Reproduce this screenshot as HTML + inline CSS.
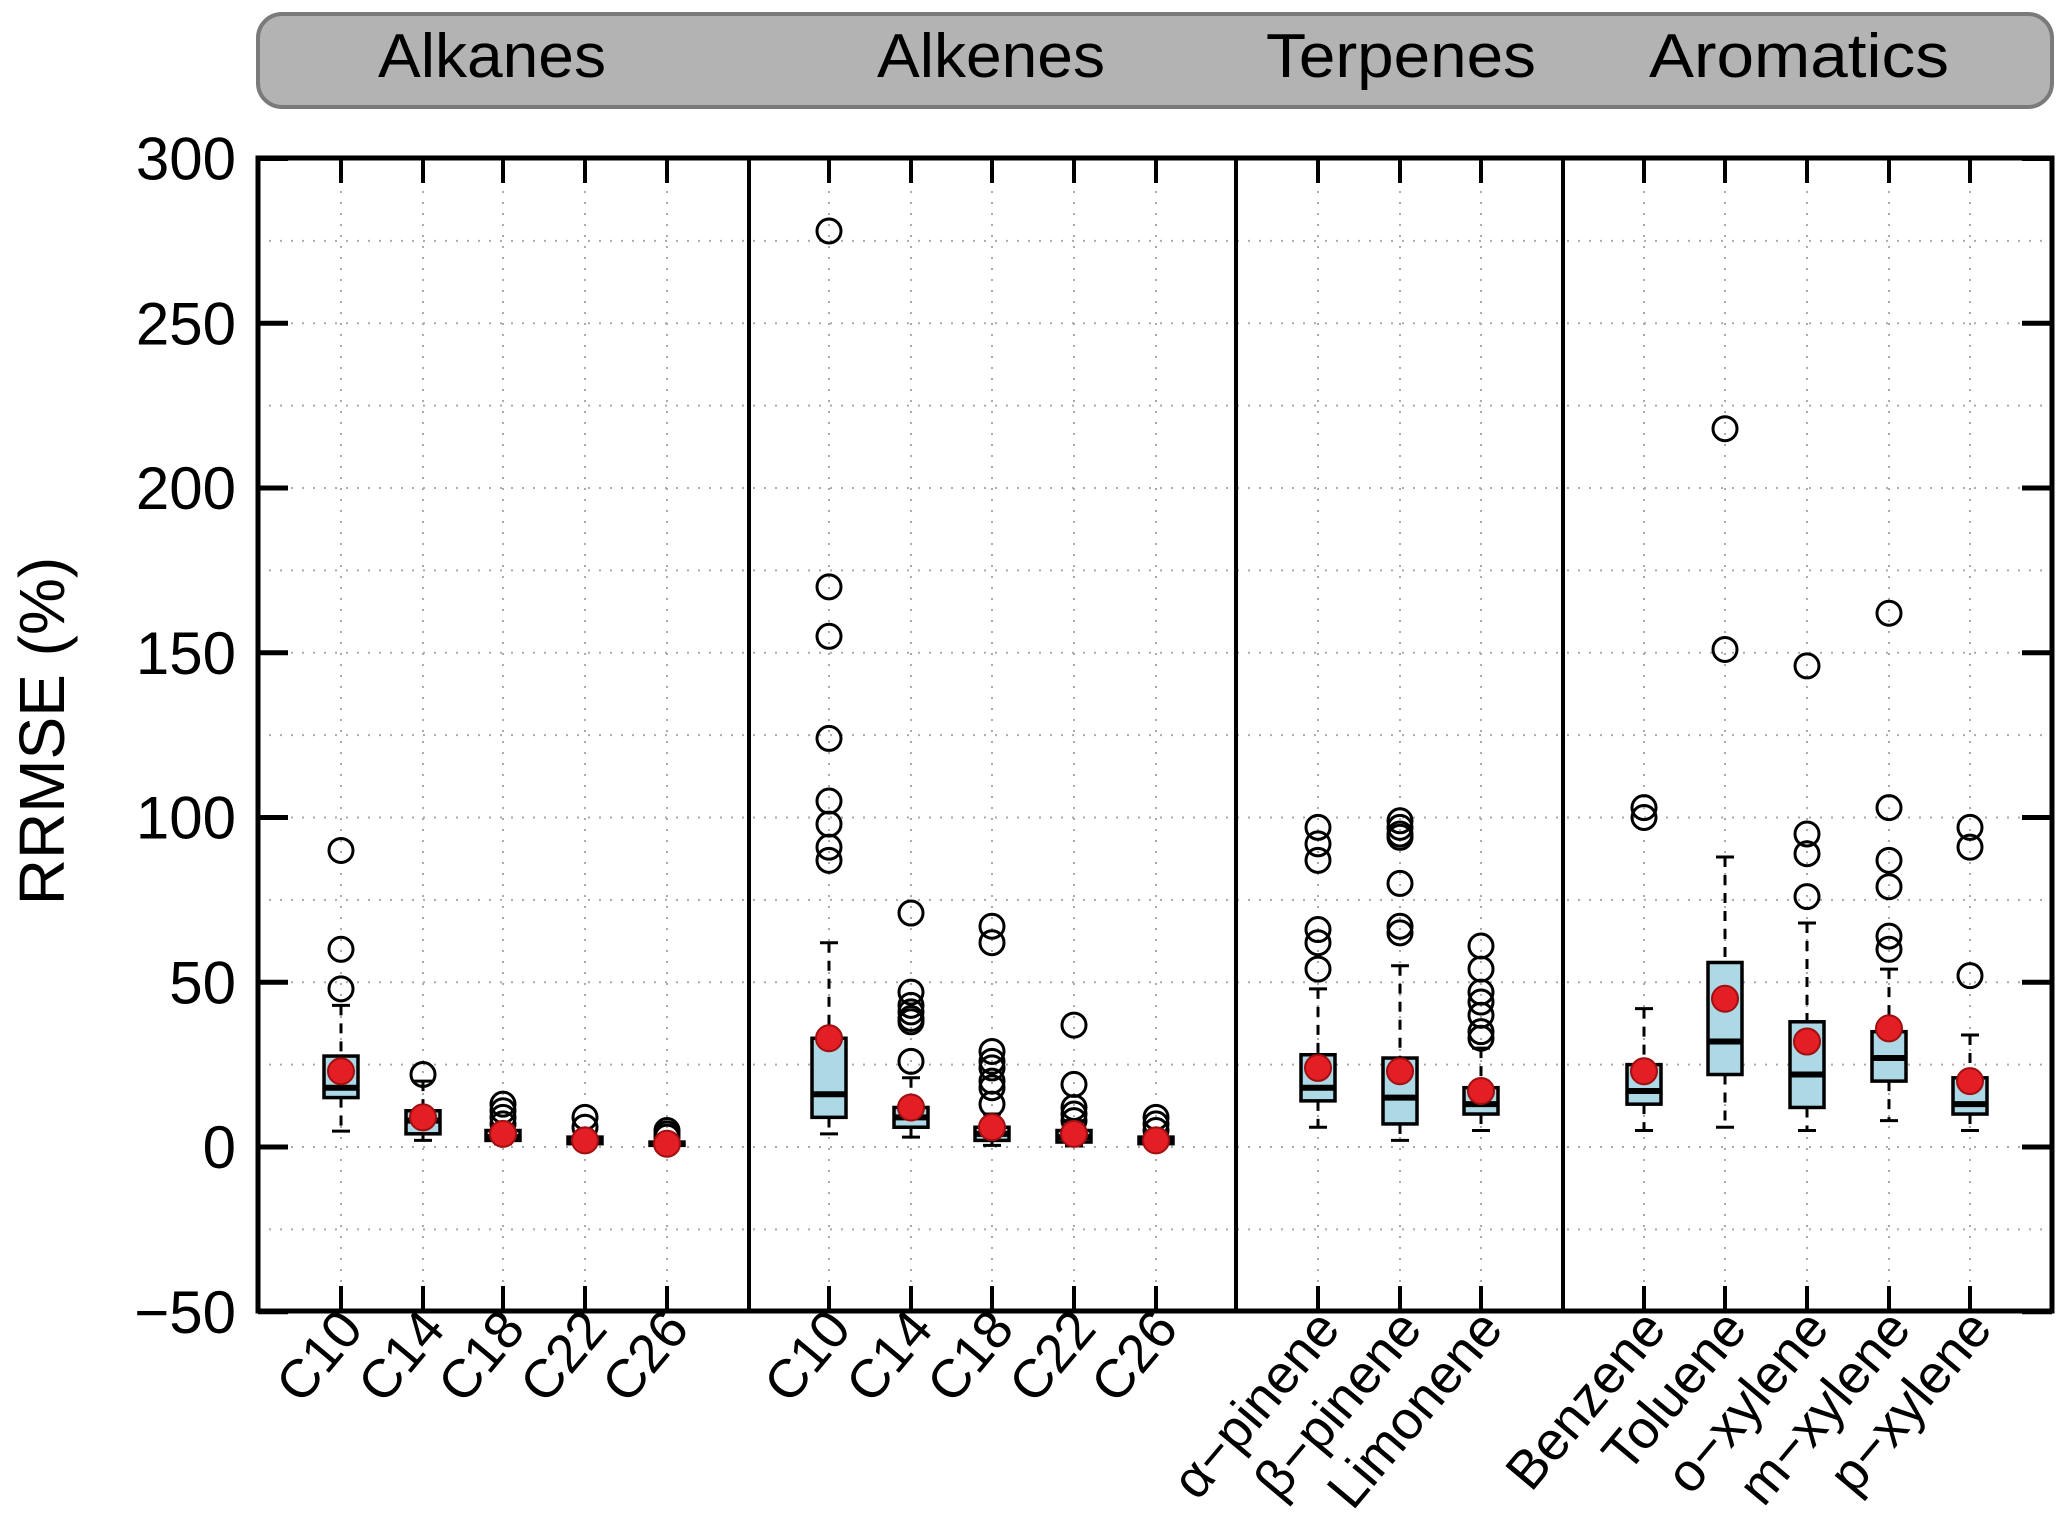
<!DOCTYPE html>
<html><head><meta charset="utf-8"><style>
html,body{margin:0;padding:0;background:#fff;}
svg{display:block;font-family:"Liberation Sans",sans-serif;}
</style></head><body>
<svg id="chart" width="2067" height="1540" viewBox="0 0 2067 1540" xmlns="http://www.w3.org/2000/svg">
<rect x="258" y="14" width="1794" height="93" rx="24" fill="#b3b3b3" stroke="#7a7a7a" stroke-width="4"/>
<text x="492" y="77" font-size="62" text-anchor="middle" textLength="228" lengthAdjust="spacingAndGlyphs">Alkanes</text>
<text x="991" y="77" font-size="62" text-anchor="middle" textLength="228" lengthAdjust="spacingAndGlyphs">Alkenes</text>
<text x="1401" y="77" font-size="62" text-anchor="middle" textLength="270" lengthAdjust="spacingAndGlyphs">Terpenes</text>
<text x="1799" y="77" font-size="62" text-anchor="middle" textLength="300" lengthAdjust="spacingAndGlyphs">Aromatics</text>
<text transform="translate(64,731) rotate(-90)" font-size="64" text-anchor="middle">RRMSE (%)</text>
<g id="grid"></g><g id="marks"></g><g id="axes"></g>
</svg>
<script>
const categories=["C10","C14","C18","C22","C26","C10","C14","C18","C22","C26","α−pinene","β−pinene","Limonene","Benzene","Toluene","o−xylene","m−xylene","p−xylene"];
const q1=[15,4,2,1,0.5,9,6,2,1.5,1,14,7,10,13,22,12,20,10];
const q3=[27.6,11,5,3,1.5,33,12,6,5,3,28,27,18,25,56,38,35,21];
const med=[18,8,3,2,1,16,9,4,3,2,18,15,13,17,32,22,27,13];
const whiskLo=[4.8,2,1,0.5,0.2,4,3,0.5,0.3,0.3,6,2,5,5,6,5,8,5];
const whiskHi=[43,20,6,3,2,62,21,10,8,4,48,55,30,42,88,68,54,34];
const means=[23,9,4,2,1,33,12,6,4,2,24,23,17,23,45,32,36,20];
const outliers=[[90,60,48],[22],[13,11,9,7],[9,6],[5,4,3],[278,170,155,124,105,98,91,87],[71,47,43,41,39,38,26],[67,62,29,26,24,20,18,13],[37,19,12,10,8],[9,7,5],[97,92,87,66,62,54],[99,97,95,94,80,67,65],[61,54,47,44,40,35,33],[103,100],[218,151],[146,95,89,76],[162,103,87,79,64,60],[97,91,52]];
const yTicks=[-50,0,50,100,150,200,250,300];
const xPos=[341,423,503,585,667,829,911,992,1074,1156,1318,1400,1481,1644,1725,1807,1889,1970];
const dividers=[749,1236,1563];
const L=258,R=2052,T=158,B=1311;
function y(v){return 1147-v*3.295;}
const NS="http://www.w3.org/2000/svg";
function mk(parent,tag,attrs){const e=document.createElementNS(NS,tag);for(const k in attrs)e.setAttribute(k,attrs[k]);parent.appendChild(e);return e;}
const grid=document.getElementById('grid'),marks=document.getElementById('marks'),axes=document.getElementById('axes');
for(let v=-50;v<=300;v+=25){const g=mk(grid,'line',{x1:L,x2:R,y1:y(v),y2:y(v),stroke:'#aaa','stroke-width':2,'stroke-dasharray':'2 9'});

}
xPos.forEach(x=>{const g=mk(grid,'line',{x1:x,x2:x,y1:T,y2:B,stroke:'#aaa','stroke-width':2,'stroke-dasharray':'2 9'});

});
categories.forEach((c,i)=>{
 const x=xPos[i],w=34;
 const g=mk(marks,'g',{});
 
 
 mk(g,'line',{x1:x,x2:x,y1:y(whiskHi[i]),y2:y(q3[i]),stroke:'#000','stroke-width':3,'stroke-dasharray':'10 8'});
 mk(g,'line',{x1:x,x2:x,y1:y(q1[i]),y2:y(whiskLo[i]),stroke:'#000','stroke-width':3,'stroke-dasharray':'10 8'});
 mk(g,'line',{x1:x-9,x2:x+9,y1:y(whiskHi[i]),y2:y(whiskHi[i]),stroke:'#000','stroke-width':3});
 mk(g,'line',{x1:x-9,x2:x+9,y1:y(whiskLo[i]),y2:y(whiskLo[i]),stroke:'#000','stroke-width':3});
 mk(g,'rect',{x:x-w/2,y:y(q3[i]),width:w,height:Math.max(2,y(q1[i])-y(q3[i])),fill:'#add8e6',stroke:'#000','stroke-width':3.5});
 mk(g,'line',{x1:x-w/2,x2:x+w/2,y1:y(med[i]),y2:y(med[i]),stroke:'#000','stroke-width':6});
 outliers[i].forEach(o=>{const c2=mk(g,'circle',{cx:x,cy:y(o),r:12,fill:'none',stroke:'#000','stroke-width':3});
 
 });
 const m=mk(g,'circle',{cx:x,cy:y(means[i]),r:13,fill:'#e31e24',stroke:'#a01010','stroke-width':2});
 
 
 mk(axes,'line',{x1:x,x2:x,y1:B,y2:B-25,stroke:'#000','stroke-width':4});
 mk(axes,'line',{x1:x,x2:x,y1:T,y2:T+25,stroke:'#000','stroke-width':4});
 const t=mk(axes,'text',{transform:`translate(${x+24},1330) rotate(-50)`,'font-size':54,'text-anchor':'end'});
 t.textContent=c;
 
 
});
dividers.forEach(d=>{const l=mk(axes,'line',{x1:d,x2:d,y1:T,y2:B,stroke:'#000','stroke-width':4});

});
yTicks.forEach(v=>{
 mk(axes,'line',{x1:L,x2:L+30,y1:y(v),y2:y(v),stroke:'#000','stroke-width':5});
 mk(axes,'line',{x1:R,x2:R-30,y1:y(v),y2:y(v),stroke:'#000','stroke-width':5});
 const t=mk(axes,'text',{x:236,y:y(v)+21,'font-size':60,'text-anchor':'end'});
 t.textContent=v<0?'−'+Math.abs(v):String(v);
 
 
});
const f=mk(axes,'rect',{x:L,y:T,width:R-L,height:B-T,fill:'none',stroke:'#000','stroke-width':5});


</script>
</body></html>
